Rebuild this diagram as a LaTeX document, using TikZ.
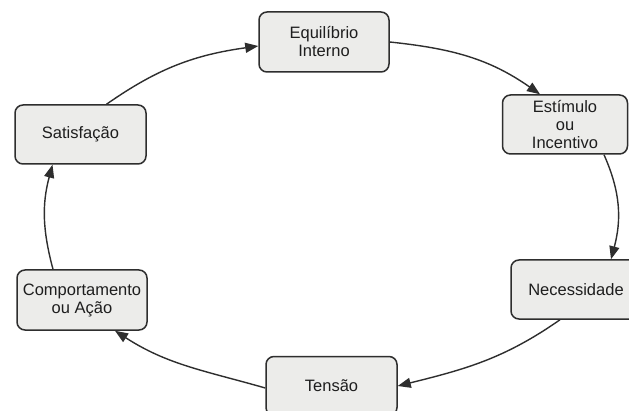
\documentclass[tikz,border=0pt]{standalone}
\usepackage{fontspec}
\setmainfont{Liberation Sans}
\usetikzlibrary{arrows.meta}
\definecolor{boxfill}{HTML}{ECECEA}
\definecolor{boxline}{HTML}{2E2E2E}
\definecolor{txt}{HTML}{1E1E1E}
\begin{document}
\begin{tikzpicture}[x=1pt,y=1pt,
  box/.style={draw=boxline, line width=1.5pt, fill=boxfill, rounded corners=8pt,
    align=center, text=txt, inner sep=0pt,
    font=\fontsize{16.5}{18}\selectfont},
  conn/.style={draw=boxline, line width=1.4pt,
    -{Triangle[length=13pt,width=10pt]}}]
\useasboundingbox (0,0) rectangle (629,410);
\clip (0,0) rectangle (629,410);
\fill[white] (0,0) rectangle (629,410);
\node[box, minimum width=130pt, minimum height=60pt] (eq) at (324,368) {Equilíbrio\\Interno};
\node[box, minimum width=125pt, minimum height=59pt] (est) at (565,285.5) {Estímulo\\ou\\Incentivo};
\node[box, minimum width=130pt, minimum height=59pt] (nec) at (576,120.5) {Necessidade};
\node[box, minimum width=131pt, minimum height=59pt] (ten) at (331.5,24) {Tensão};
\node[box, minimum width=130pt, minimum height=60pt] (comp) at (82,110) {Comportamento\\ou Ação};
\node[box, minimum width=131pt, minimum height=59pt] (sat) at (80.5,275.5) {Satisfação};
\draw[conn] ([xshift=26pt]sat.north) to[out=35,in=188] ([yshift=-4pt]eq.west);
\draw[conn] (eq.east) to[out=-6,in=145] ([xshift=-25pt]est.north);
\draw[conn] ([xshift=39pt]est.south) to[out=-66,in=75] ([xshift=35pt]nec.north);
\draw[conn] ([xshift=-16pt]nec.south) to[out=215,in=14] (ten.east);
\draw[conn] ([yshift=-2pt]ten.west) to[out=164,in=-33] ([xshift=33pt]comp.south);
\draw[conn] ([xshift=-29pt]comp.north) to[out=105,in=-105] ([xshift=-28pt]sat.south);
\end{tikzpicture}
\end{document}
